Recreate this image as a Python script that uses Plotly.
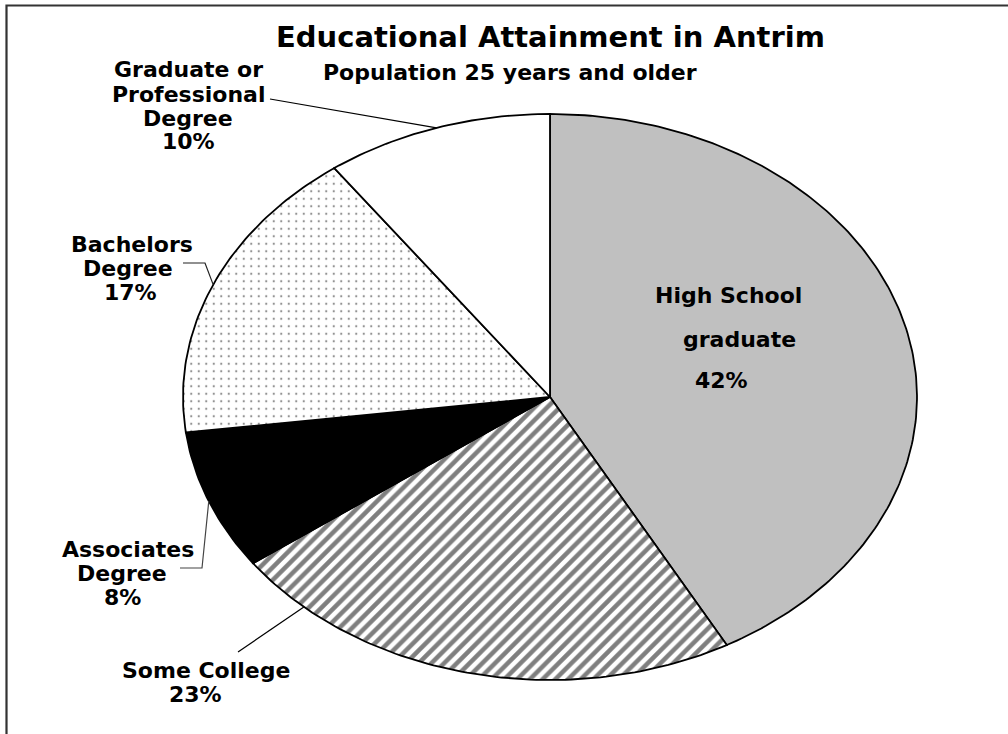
import numpy as np
import plotly.graph_objects as go

# Educational attainment, population 25 years and older (percent)
categories = ["High School graduate", "Some College", "Associates Degree",
              "Bachelors Degree", "Graduate or Professional Degree"]
shares = [42, 23, 8, 17, 10]
# how each category name is broken over lines in its slice label
label_lines = [["High School", "graduate"], ["Some College"], ["Associates", "Degree"],
               ["Bachelors", "Degree"], ["Graduate or", "Professional", "Degree"]]

W, H = 1008, 734
CX, CY, RX, RY = 550, 397, 367, 283          # pie centre / radii in pixels
FONT = "DejaVu Sans"


def paper(px, py):
    return px / W, 1 - py / H


def edge(frac):
    t = 2 * np.pi * frac
    return CX + RX * np.sin(t), CY - RY * np.cos(t)


slice_styles = [
    dict(fillcolor="#c0c0c0"),
    dict(fillcolor="white", fillpattern=dict(shape="/", fgcolor="black", bgcolor="white",
                                             size=9, solidity=0.5)),
    dict(fillcolor="black"),
    dict(fillcolor="white", fillpattern=dict(shape=".", fgcolor="#222222", bgcolor="white",
                                             size=7.5, solidity=0.07)),
    dict(fillcolor="white"),
]

fig = go.Figure()
total = sum(shares)
cum = 0
mids = []
for name, v, st in zip(categories, shares, slice_styles):
    f0, f1 = cum / total, (cum + v) / total
    mids.append((f0 + f1) / 2)
    th = np.linspace(2 * np.pi * f0, 2 * np.pi * f1, max(int(400 * (f1 - f0)), 12))
    xs = np.concatenate([[0], np.sin(th), [0]])
    ys = np.concatenate([[0], np.cos(th), [0]])
    fig.add_trace(go.Scatter(x=xs, y=ys, mode="lines", fill="toself", name=name,
                             line=dict(color="black", width=1.8), hoverinfo="skip", **st))
    cum += v

pct = [f"{round(v / total * 100)}%" for v in shares]

# per-line text positions (px) for each slice label
line_pos = [
    [(728, 296), (739, 339), (721, 381)],
    [(206, 670), (195, 694)],
    [(128, 549), (122, 573), (122, 597)],
    [(132, 244), (128, 268), (130, 292)],
    [(188, 70), (188, 94), (188, 118), (188, 142)],
]

annotations = []
for lines, p, pos in zip(label_lines, pct, line_pos):
    for txt, (px, py) in zip(lines + [p], pos):
        x, y = paper(px, py)
        annotations.append(dict(x=x, y=y, xref="paper", yref="paper", text=f"<b>{txt}</b>",
                                showarrow=False, xanchor="center", yanchor="middle",
                                font=dict(family=FONT, size=22, color="black")))

tx, ty = paper(550, 37)
annotations.append(dict(x=tx, y=ty, xref="paper", yref="paper", xanchor="center",
                        yanchor="middle", text="<b>Educational Attainment in Antrim</b>",
                        showarrow=False, font=dict(family=FONT, size=29, color="black")))
sx, sy = paper(510, 73)
annotations.append(dict(x=sx, y=sy, xref="paper", yref="paper", xanchor="center",
                        yanchor="middle", text="<b>Population 25 years and older</b>",
                        showarrow=False, font=dict(family=FONT, size=22, color="black")))

# leader lines from labels to the pie rim
leaders = [
    ([(238, 652)], edge(0.617), "black"),
    ([(180, 568), (202, 568)], edge(mids[2]), "#444444"),
    ([(183, 263), (205, 263)], edge(mids[3]), "#222222"),
    ([(270, 99)], edge(mids[4]), "black"),
]
shapes = []
for pts, end, col in leaders:
    path_pts = [paper(*p) for p in pts] + [paper(*end)]
    d = "M " + " L ".join(f"{a:.5f},{b:.5f}" for a, b in path_pts)
    shapes.append(dict(type="path", path=d, xref="paper", yref="paper",
                       line=dict(color=col, width=1.2)))

# chart frame
shapes.append(dict(type="rect", xref="paper", yref="paper",
                   x0=6.5 / W, x1=1.05, y0=-0.05, y1=1 - 5.5 / H,
                   line=dict(color="#333333", width=2.2)))

fig.update_layout(
    width=W, height=H, autosize=False,
    margin=dict(l=0, r=0, t=0, b=0, pad=0),
    paper_bgcolor="white", plot_bgcolor="white",
    showlegend=False, hovermode=False,
    xaxis=dict(range=[-CX / RX, (W - CX) / RX], visible=False, fixedrange=True),
    yaxis=dict(range=[-(H - CY) / RY, CY / RY], visible=False, fixedrange=True),
    annotations=annotations, shapes=shapes,
)

fig.write_html("out.html")
